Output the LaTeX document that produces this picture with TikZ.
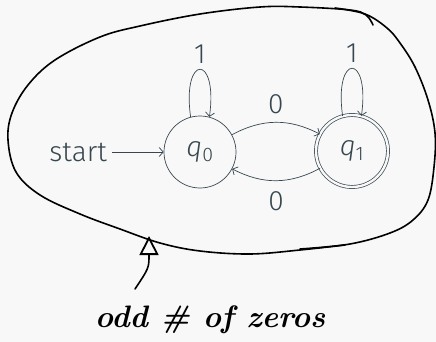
\documentclass[tikz,border=0pt]{standalone}
\usepackage{fontspec}
\newfontfamily\fira{Fira Sans Light}
\usetikzlibrary{arrows.meta}
\definecolor{ink}{RGB}{55,71,79}
\definecolor{bg}{RGB}{248,248,248}
\begin{document}
\begin{tikzpicture}[x=1pt,y=-1pt,
  txt/.style={text=ink, font=\fira\fontsize{28}{30}\selectfont},
  state/.style={circle, draw=ink, line width=0.7pt, minimum size=72pt, inner sep=0pt, txt},
  accept/.style={state, double=bg, double distance=2.4pt},
  ed/.style={draw=ink, line width=0.7pt, -{Straight Barb[length=4pt,width=9pt]}},
  lab/.style={txt, inner sep=6pt},
  hand/.style={draw=black, line width=1.6pt, line cap=round, line join=round}]
\fill[bg] (0,0) rectangle (436,342);
\useasboundingbox (0,0) rectangle (436,342);
% automaton
\node[state] (q0) at (200,152) {\textit{q}\textsubscript{0}};
\node[accept] (q1) at (352,151) {\textit{q}\textsubscript{1}};
\node[txt, anchor=east, inner sep=5pt] (start) at (112,152) {start};
\draw[ed] (start) -- (q0);
\draw[ed] (q0.105) .. controls +(-98:64) and +(-82:64) .. node[lab, above, pos=0.5] {1} (q0.75);
\draw[ed] (q1.105) .. controls +(-98:64) and +(-82:64) .. node[lab, above, pos=0.5] {1} (q1.75);
\draw[ed] (q0) to[bend left=28] node[lab, above, yshift=2pt] {0} (q1);
\draw[ed] (q1) to[bend left=28] node[lab, below, yshift=-5pt] {0} (q0);
% hand-drawn blob
\draw[hand] plot[smooth, tension=0.6] coordinates {(373,25) (366,15) (350,10) (300,7) (260,7) (200,14) (140,26) (100,37) (55,60) (28,85) (12,113) (8,140) (16,172) (40,195) (80,214) (120,229) (160,243) (200,251) (250,254) (300,250) (345,245)};
\draw[hand] plot[smooth, tension=0.6] coordinates {(300,249) (350,244) (390,233) (413,220) (428,200) (434,167) (435,133) (428,100) (415,67) (400,43) (387,28) (365,14) (335,8)};
% annotation
\coordinate (tip) at (149,236);
\node[font=\bfseries\itshape\fontsize{31}{34}\selectfont, text=black] (note) at (210,320) {odd \# of zeros};
\coordinate (tail) at (135,289);
\draw[hand, line width=1.6pt, -{Triangle[open, length=19pt, width=19pt, line width=1.8pt]}] (tail) .. controls (149,268) .. (tip);
\end{tikzpicture}
\end{document}
